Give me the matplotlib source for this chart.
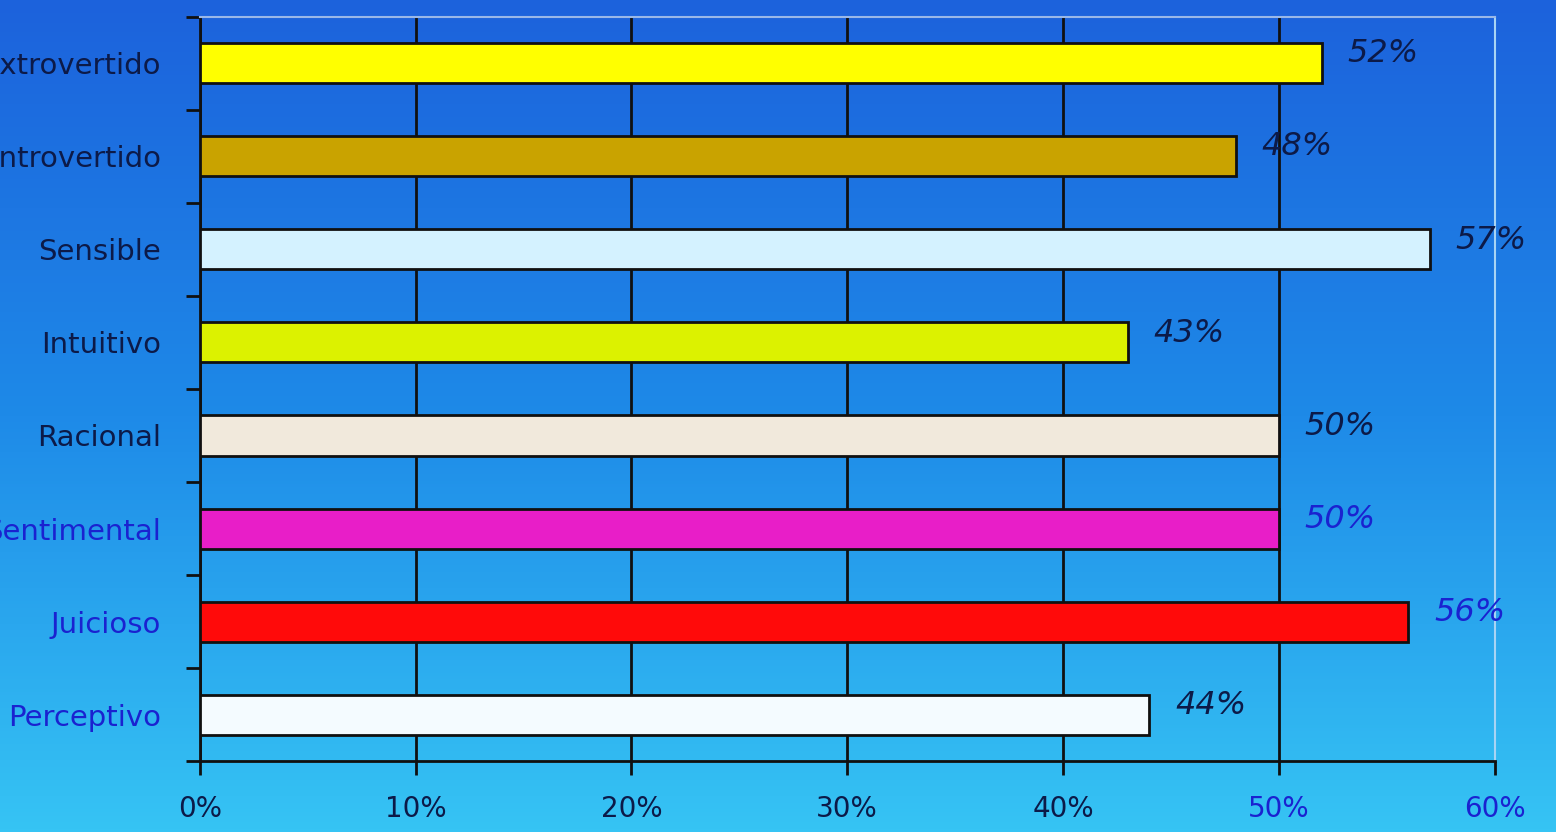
import matplotlib.pyplot as plt
import numpy as np
from matplotlib.colors import LinearSegmentedColormap

# Datos del grafico (porcentaje por tipo de personalidad)
categorias = ['Extrovertido', 'Introvertido', 'Sensible', 'Intuitivo',
              'Racional', 'Sentimental', 'Juicioso', 'Perceptivo']
valores = [52, 48, 57, 43, 50, 50, 56, 44]
colores = ['#ffff00', '#c9a300', '#d4f2ff', '#dcf200',
           '#f1e9dc', '#e81ec8', '#ff0a0a', '#f4fbff']
color_etiqueta = ['#0c1a48', '#0c1a48', '#0c1a48', '#0c1a48',
                  '#0c1a48', '#1a22d0', '#1a22d0', '#1a22d0']
color_valor = ['#0c1a48', '#0c1a48', '#0c1a48', '#0c1a48',
               '#0c1a48', '#1a22d0', '#1a22d0', '#0c1a48']
ticks_x = [0, 10, 20, 30, 40, 50, 60]

fig = plt.figure(figsize=(15.56, 8.32), dpi=100)

# Fondo degradado azul -> cian
bg = fig.add_axes([0, 0, 1, 1], zorder=0)
grad = np.linspace(0, 1, 256).reshape(-1, 1)
cmap = LinearSegmentedColormap.from_list('fondo', ['#1c62dc', '#1e8ae8', '#36c4f4'])
bg.imshow(grad, aspect='auto', cmap=cmap, extent=[0, 1, 0, 1], origin='upper')
bg.axis('off')

ax = fig.add_axes([0.1285, 0.085, 0.832, 0.895], zorder=1)
ax.patch.set_alpha(0)

y = np.arange(len(categorias))
ax.barh(y, valores, height=0.43, color=colores, edgecolor='#101010',
        linewidth=2, zorder=3)

ax.set_xlim(0, 60)
ax.set_ylim(len(categorias) - 0.5, -0.5)

# Lineas de division verticales
ax.set_xticks(ticks_x)
ax.set_xticklabels([f'{t}%' for t in ticks_x], fontsize=20, color='#0c1a48')
for lbl in ax.get_xticklabels()[-2:]:
    lbl.set_color('#1a22d0')
ax.grid(True, axis='x', color='#101010', linewidth=2, zorder=1)
ax.tick_params(axis='x', direction='out', length=10, width=2, pad=14, color='#101010')

# Marcas en y entre categorias, etiquetas centradas
ax.set_yticks(np.arange(len(categorias) + 1) - 0.5)
ax.set_yticklabels([])
ax.set_yticks(y, minor=True)
ax.set_yticklabels(categorias, minor=True, fontsize=21)
ax.tick_params(axis='y', which='major', direction='out', length=10, width=2,
               color='#101010')
ax.tick_params(axis='y', which='minor', length=0, pad=28)
for lbl, c in zip(ax.get_yticklabels(minor=True), color_etiqueta):
    lbl.set_color(c)

for s in ['left', 'bottom']:
    ax.spines[s].set_color('#101010')
    ax.spines[s].set_linewidth(2)
ax.spines['top'].set_color('#9ab8e8')
ax.spines['top'].set_linewidth(1.5)
ax.spines['right'].set_color('#a8d4f4')
ax.spines['right'].set_linewidth(1.5)

# Valores al final de cada barra
for i, v in enumerate(valores):
    ax.text(v + 1.2, i - 0.1, f'{v}%', fontsize=23, style='italic',
            color=color_valor[i], va='center', ha='left', zorder=4)

plt.savefig('out.png', dpi=100)
